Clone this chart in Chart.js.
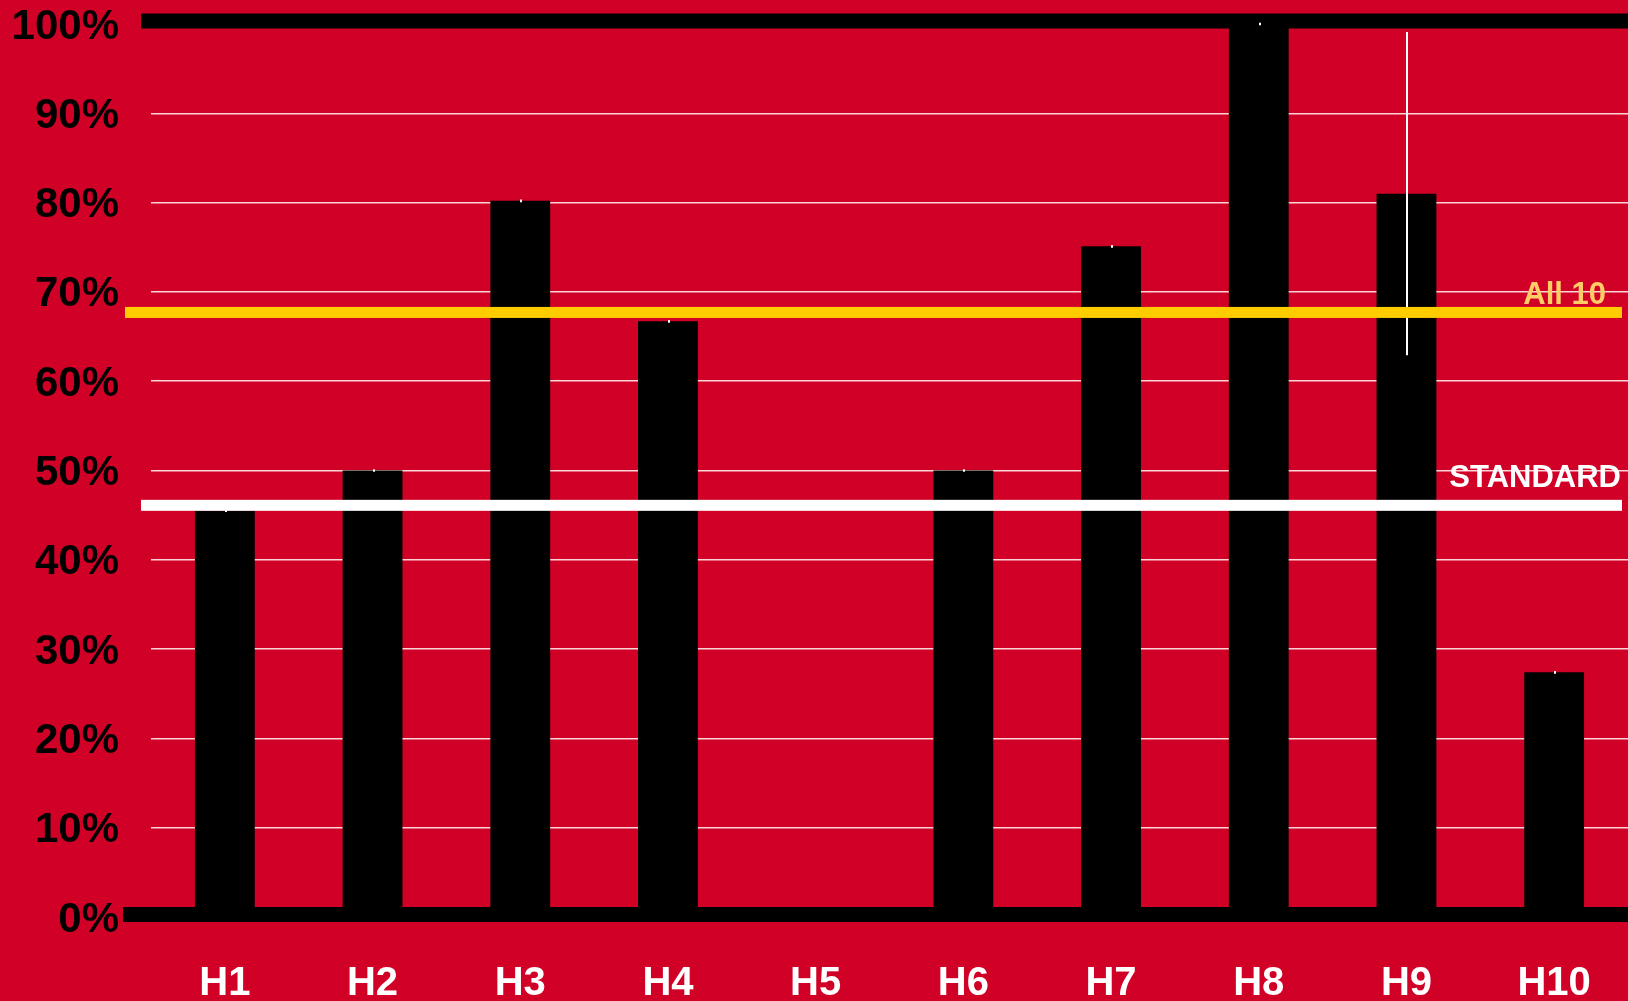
<!DOCTYPE html>
<html>
<head>
<meta charset="utf-8">
<script src="https://cdn.jsdelivr.net/npm/chart.js@4"></script>
<style>
  html, body { margin: 0; padding: 0; background: #d10027; overflow: hidden; }
  #wrap { width: 1628px; height: 1001px; position: relative; }
  #chart { display: block; }
</style>
</head>
<body>
<div id="wrap"><canvas id="chart"></canvas></div>
<script>
// Data
const categories = ["H1", "H2", "H3", "H4", "H5", "H6", "H7", "H8", "H9", "H10"];
const scores = [45.5, 50, 80.2, 66.7, 0, 50, 75.1, 100, 81, 27.4];
const scoreErrors = [0.15, 0.15, 0.15, 0.15, 0, 0.15, 0.15, 0.15, 18.1, 0.15];
const yTicks = [0, 10, 20, 30, 40, 50, 60, 70, 80, 90, 100];
const refLabels = ["All 10", "STANDARD"];
const refValues = [67.7, 46.1];

const FONT = "'Liberation Sans', Arial, sans-serif";

// thick black lines at 0% and 100%
const frameLines = {
  id: "frameLines",
  beforeDatasetsDraw(chart) {
    const { ctx, chartArea } = chart;
    const y = chart.scales.y;
    ctx.save();
    ctx.fillStyle = "#000";
    ctx.fillRect(chartArea.left - 10, y.getPixelForValue(100) - 10.5, chartArea.right - chartArea.left + 10, 15);
    ctx.fillRect(chartArea.left - 28, y.getPixelForValue(0) - 10, chartArea.right - chartArea.left + 28, 15);
    ctx.restore();
  }
};

// white error bars on top of the columns
const errorBars = {
  id: "errorBars",
  afterDatasetsDraw(chart) {
    const { ctx } = chart;
    const meta = chart.getDatasetMeta(0);
    const y = chart.scales.y;
    ctx.save();
    ctx.strokeStyle = "#fff";
    ctx.lineWidth = 2;
    meta.data.forEach((bar, i) => {
      const e = scoreErrors[i];
      if (!e) return;
      const x = Math.round(bar.x) + 1;
      ctx.beginPath();
      ctx.moveTo(x, y.getPixelForValue(scores[i] + e));
      ctx.lineTo(x, y.getPixelForValue(scores[i] - e));
      ctx.stroke();
    });
    ctx.restore();
  }
};

// "All 10" and "STANDARD" reference lines
const refLines = {
  id: "refLines",
  afterDatasetsDraw(chart) {
    const { ctx, chartArea } = chart;
    const y = chart.scales.y;
    const styles = [
      { color: "#ffcc00", text: "#ffcc66", start: chartArea.left - 26, textRight: 1606, lift: 8 },
      { color: "#ffffff", text: "#ffffff", start: chartArea.left - 10, textRight: 1621, lift: 18 }
    ];
    ctx.save();
    refValues.forEach((v, i) => {
      const s = styles[i];
      const py = y.getPixelForValue(v);
      ctx.fillStyle = s.color;
      ctx.fillRect(s.start, py - 5.5, 1622 - s.start, 11);
      ctx.fillStyle = s.text;
      ctx.font = "bold 31px " + FONT;
      ctx.textAlign = "right";
      ctx.textBaseline = "alphabetic";
      ctx.fillText(refLabels[i], s.textRight, py - s.lift);
    });
    ctx.restore();
  }
};

new Chart(document.getElementById("chart"), {
  type: "bar",
  data: {
    labels: categories,
    datasets: [{
      data: scores,
      backgroundColor: "#000",
      borderWidth: 0,
      barPercentage: 0.405,
      categoryPercentage: 1
    }]
  },
  options: {
    responsive: true,
    maintainAspectRatio: false,
    animation: false,
    layout: { padding: { top: 24, right: 0, bottom: 0, left: 0 } },
    plugins: { legend: { display: false }, tooltip: { enabled: false } },
    scales: {
      x: {
        grid: { display: false, drawTicks: false },
        border: { display: false },
        ticks: {
          color: "#fff",
          font: { family: FONT, size: 40, weight: "bold" },
          padding: 43,
          maxRotation: 0
        },
        afterFit(scale) {
          scale.height = 84;
          scale.paddingLeft = 0;
          scale.paddingRight = 0;
        }
      },
      y: {
        min: 0,
        max: 100,
        afterBuildTicks(scale) { scale.ticks = yTicks.map(v => ({ value: v })); },
        grid: {
          drawTicks: false,
          color: ctx => (ctx.tick && (ctx.tick.value === 0 || ctx.tick.value === 100)) ? "rgba(0,0,0,0)" : "rgba(255,235,235,0.9)",
          lineWidth: 1.5
        },
        border: { display: false },
        ticks: {
          color: "#000",
          font: { family: FONT, size: 42, weight: "bold" },
          padding: 32,
          labelOffset: 3,
          callback: v => v + "%"
        },
        afterFit(scale) {
          scale.width = 151;
          scale.paddingTop = 0;
          scale.paddingBottom = 0;
        }
      }
    }
  },
  plugins: [frameLines, errorBars, refLines]
});
</script>
</body>
</html>
